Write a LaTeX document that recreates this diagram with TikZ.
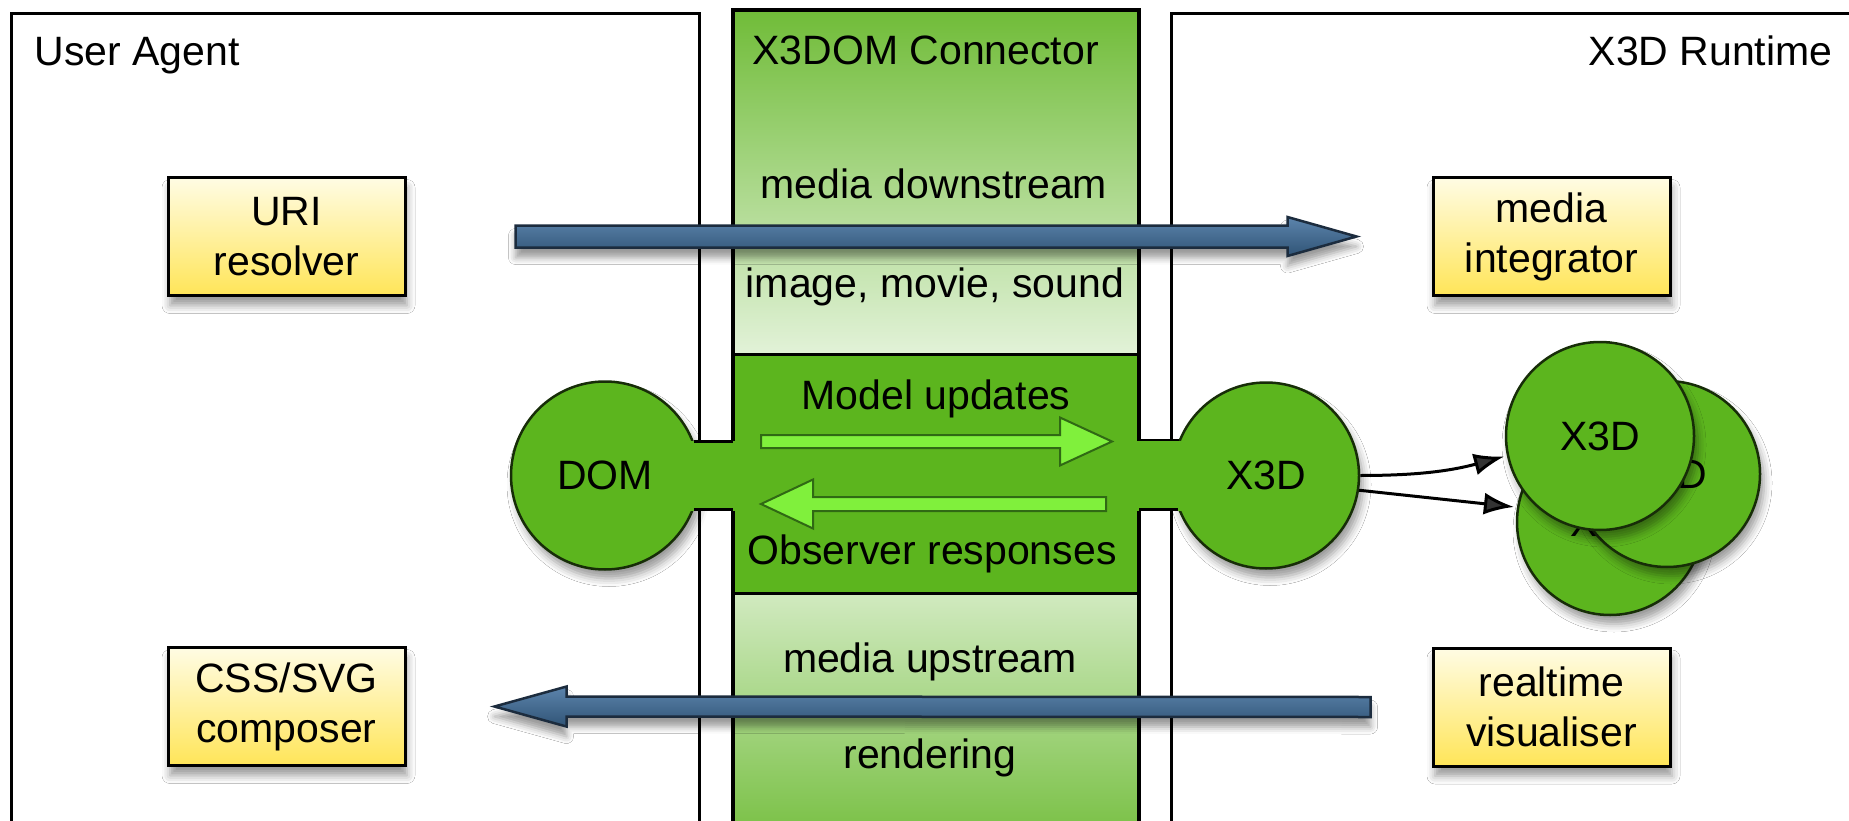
\documentclass[tikz,border=0pt]{standalone}
\usepackage{fontspec}
\setmainfont{Liberation Sans}
\usetikzlibrary{calc,arrows.meta,shadows.blur}

\definecolor{nodegreen}{RGB}{92,181,30}
\definecolor{colgreen}{RGB}{112,188,56}
\definecolor{palegreen}{RGB}{226,242,216}
\definecolor{flowgreen}{RGB}{128,240,60}
\definecolor{edgegreen}{RGB}{48,105,20}
\definecolor{pipelight}{RGB}{92,132,172}
\definecolor{pipeblue}{RGB}{48,84,118}
\definecolor{pipedark}{RGB}{28,44,62}
\definecolor{paleyellow}{RGB}{255,252,228}
\definecolor{deepyellow}{RGB}{255,229,88}

\tikzset{
	every node/.style={font=\fontsize{41}{50}\selectfont},
	region/.style={draw=black, line width=3pt, fill=white},
	module/.style={draw=black, line width=3pt, top color=paleyellow, bottom color=deepyellow,
		minimum width=237pt, minimum height=118pt, inner sep=0pt, align=center,
		blur shadow={shadow xshift=2pt, shadow yshift=-10pt, shadow blur radius=8pt}},
	blob/.style={circle, draw=black!75!nodegreen, line width=2.5pt, fill=nodegreen,
		inner sep=0pt, minimum size=#1,
		blur shadow={shadow xshift=4pt, shadow yshift=-9pt, shadow blur radius=8pt}},
	pipe/.style={draw=pipedark, line width=2.5pt, top color=pipelight, bottom color=pipeblue,
		blur shadow={shadow xshift=0pt, shadow yshift=-10pt, shadow blur radius=7pt}},
	flow/.style={draw=edgegreen, line width=2pt, fill=flowgreen},
	link/.style={line width=3pt, -{Latex[length=30pt,width=22pt]}, shorten >=3pt},
}

% style, tail, tip, half shaft, half head, head length
\newcommand{\fatarrow}[6]{%
	\path ($(#3)!#6!(#2)$) coordinate (headbase);
	\draw[#1] ([yshift=#4]#2) -- ([yshift=#4]headbase) -- ([yshift=#5]headbase) -- (#3)
		-- ([yshift=-#5]headbase) -- ([yshift=-#4]headbase) -- ([yshift=-#4]#2) -- cycle;
}

\begin{document}
\begin{tikzpicture}[x=1pt,y=-1pt]
	\useasboundingbox (0,0) rectangle (1849,821);
	\clip (0,0) rectangle (1849,821);

	% the two sides
	\draw[region] (11,14) rectangle (699,860);
	\draw[region] (1171,14) rectangle (1880,860);
	\node[anchor=base west] (agentlbl) at (31,66) {User Agent};
	\node[anchor=base east] (runtimelbl) at (1836,66) {X3D Runtime};

	% connector column
	\fill[top color=colgreen, bottom color=palegreen] (733,10) rectangle (1139,354);
	\fill[nodegreen] (733,354) rectangle (1139,593);
	\fill[top color=palegreen!85!colgreen, bottom color=colgreen] (733,593) rectangle (1139,860);
	\draw[line width=3.5pt] (733,10) rectangle (1139,860);
	\draw[line width=3pt] (733,354) -- (1139,354);
	\draw[line width=3pt] (733,593) -- (1139,593);
	\coordinate (colW) at (733,475.5);
	\coordinate (colE) at (1139,475.5);

	\node[anchor=base west] (connlbl) at (749,65) {X3DOM Connector};
	\node[anchor=base] (downlbl) at (934,199) {media downstream};
	\node[anchor=base] (medialbl) at (935,297) {image, movie, sound};
	\node[anchor=base] (updlbl) at (936,409) {Model updates};
	\node[anchor=base] (obslbl) at (932,564) {Observer responses};
	\node[anchor=base] (uplbl) at (930,672) {media upstream};
	\node[anchor=base] (renderlbl) at (930,768) {rendering};

	% DOM and X3D ends
	\node[blob=188pt] (dom) at (605,475.5) {};
	\node[blob=186pt] (x3d) at (1266,475.5) {};
	\fill[nodegreen] (684,440.5) rectangle (760,510.5);
	\fill[nodegreen] (1110,440.5) rectangle (1188,510.5);
	\draw[line width=2.5pt] (dom.21.9) -- (dom.21.9 -| colW);
	\draw[line width=2.5pt] (dom.-21.9) -- (dom.-21.9 -| colW);
	\draw[line width=2.5pt] (x3d.158.1) -- (x3d.158.1 -| colE);
	\draw[line width=2.5pt] (x3d.201.9) -- (x3d.201.9 -| colE);
	\node (domlbl) at (dom) {DOM};
	\node (x3dlbl) at (x3d) {X3D};

	\coordinate (updA) at (761,441.5);
	\coordinate (updB) at (1112,441.5);
	\coordinate (obsA) at (1106,504);
	\coordinate (obsB) at (761,504);
	\fatarrow{flow}{updA}{updB}{6.5pt}{24pt}{52pt}
	\fatarrow{flow}{obsA}{obsB}{7pt}{24.5pt}{52pt}

	% media boxes
	\node[module] (uri) at (286.5,236.5) {URI\\resolver};
	\node[module] (integr) at (1551.5,236.5) {media\\integrator};
	\node[module] (composer) at (286.5,706.5) {CSS/SVG\\composer};
	\node[module] (visual) at (1551.5,707) {realtime\\visualiser};

	\coordinate (dsA) at ([xshift=109pt]uri.east);
	\coordinate (dsB) at ([xshift=-75pt]integr.west);
	\coordinate (usA) at ([xshift=-61pt]visual.west);
	\coordinate (usB) at ([xshift=88pt]composer.east);
	\fatarrow{pipe}{dsA}{dsB}{11pt}{19.5pt}{69pt}
	\fatarrow{pipe}{usA}{usB}{10pt}{20pt}{72pt}

	% scene graph copies
	\node[blob=186pt] (copyb) at (1610,522) {X3D};
	\node[blob=186pt] (copya) at (1667,474) {X3D};
	\node[blob=188pt] (copyf) at (1600,436) {X3D};

	\draw[link] (x3d.east) to[out=0,in=195] (copyf.192);
	\draw[link] (x3d.-9) -- (copyb.171);
\end{tikzpicture}
\end{document}
